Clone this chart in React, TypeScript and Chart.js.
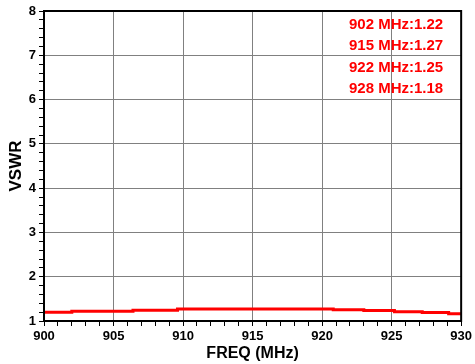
import React, { useEffect, useRef } from "react";
import { Chart, registerables } from "chart.js";

Chart.register(...registerables);

const freqs = [900, 902.0, 906.4, 909.6, 920.8, 923.0, 925.2, 927.2, 929.1, 930];
const vswr = [1.2, 1.22, 1.245, 1.27, 1.255, 1.235, 1.21, 1.19, 1.165, 1.165];
const markerLabels = ["902 MHz:1.22", "915 MHz:1.27", "922 MHz:1.25", "928 MHz:1.18"];
const xTitle = "FREQ (MHz)";
const yTitle = "VSWR";

const isMajor = (v: number, step: number) => {
  const r = v / step;
  return Math.abs(r - Math.round(r)) < 1e-6;
};

const frameAndLabels = {
  id: "frameAndLabels",
  afterDatasetsDraw(chart: any) {
    const { ctx, chartArea } = chart;
    ctx.save();
    ctx.strokeStyle = "#000";
    ctx.lineWidth = 2;
    ctx.strokeRect(chartArea.left, chartArea.top, chartArea.right - chartArea.left, chartArea.bottom - chartArea.top);
    ctx.fillStyle = "#ff0000";
    ctx.font = "bold 15px 'Liberation Sans', Arial, sans-serif";
    ctx.textAlign = "right";
    ctx.textBaseline = "middle";
    markerLabels.forEach((t, i) => {
      ctx.fillText(t, chartArea.right - 18, chartArea.top + 13.5 + i * 21.5);
    });
    ctx.restore();
  },
};

export default function App() {
  const ref = useRef<HTMLCanvasElement>(null);
  useEffect(() => {
    document.body.style.margin = "0";
    const chart = new Chart(ref.current!, {
      type: "line",
      data: {
        datasets: [
          {
            data: freqs.map((f, i) => ({ x: f, y: vswr[i] })),
            borderColor: "#ff0000",
            borderWidth: 3,
            pointRadius: 0,
            stepped: "before",
            fill: false,
          },
        ],
      },
      options: {
        animation: false,
        responsive: false,
        layout: { padding: { top: 11, right: 13, left: 0, bottom: 0 } },
        plugins: { legend: { display: false }, tooltip: { enabled: false } },
        scales: {
          x: {
            type: "linear",
            min: 900,
            max: 930,
            afterFit: (s: any) => { s.height = 43; },
            ticks: {
              stepSize: 1,
              autoSkip: false,
              maxRotation: 0,
              padding: 3,
              color: "#000",
              font: { family: "'Liberation Sans', Arial, sans-serif", size: 13, weight: "bold" },
              callback: (v: any) => (isMajor(Number(v), 5) ? String(Math.round(Number(v))) : ""),
            },
            grid: {
              color: (c: any) => (isMajor(c.tick.value, 5) ? "#808080" : "rgba(0,0,0,0)"),
              tickColor: "#000",
              tickLength: 5,
              lineWidth: 1,
            },
            border: { color: "#000", width: 2 },
            title: {
              display: true,
              text: xTitle,
              color: "#000",
              font: { family: "'Liberation Sans', Arial, sans-serif", size: 16, weight: "bold" },
              padding: { top: 0, bottom: 1 },
            },
          },
          y: {
            min: 1,
            max: 8,
            afterFit: (s: any) => { s.width = 44; },
            ticks: {
              stepSize: 0.2,
              autoSkip: false,
              padding: 3,
              color: "#000",
              font: { family: "'Liberation Sans', Arial, sans-serif", size: 13, weight: "bold" },
              callback: (v: any) => (isMajor(Number(v), 1) ? String(Math.round(Number(v))) : ""),
            },
            grid: {
              color: (c: any) => (isMajor(c.tick.value, 1) ? "#808080" : "rgba(0,0,0,0)"),
              tickColor: "#000",
              tickLength: 5,
              lineWidth: 1,
            },
            border: { color: "#000", width: 2 },
            title: {
              display: true,
              text: yTitle,
              color: "#000",
              font: { family: "'Liberation Sans', Arial, sans-serif", size: 17, weight: "bold" },
              padding: { top: 6, bottom: 0 },
            },
          },
        },
      },
      plugins: [frameAndLabels],
    });
    return () => chart.destroy();
  }, []);
  return (
    <div style={{ position: "fixed", left: 0, top: 0, width: 475, height: 364, background: "#fff" }}>
      <canvas ref={ref} width={475} height={364} />
    </div>
  );
}
